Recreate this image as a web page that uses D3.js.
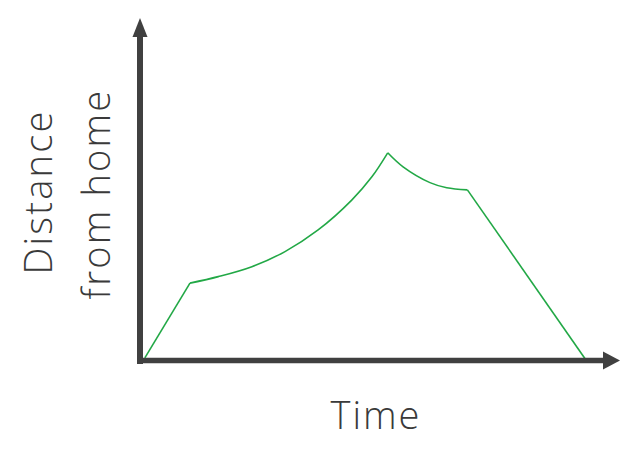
<!DOCTYPE html>
<html><head><meta charset="utf-8">
<script src="https://cdn.jsdelivr.net/npm/d3@7"></script>
<style>html,body{margin:0;padding:0;background:#fff;}svg{display:block;}</style>
</head><body>
<svg id="c" width="640" height="463"></svg>
<script>
// Data (time units 0-100, distance units 0-100)
const time     = [0.8, 10.2, 16.1, 23.1, 30.0, 36.9, 43.9, 48.1, 51.4, 54.6, 60.2, 63.7, 68.0, 92.7];
const distance = [0.9, 22.7, 24.6, 27.5, 31.9, 38.2, 46.9, 53.7, 60.7, 56.6, 52.0, 50.5, 49.9, 0.3];
const segment  = [0,   0,    1,    1,    1,    1,    1,    1,    1,    2,    2,    2,    2,    3];
const xLabel = "Time";
const yLabelLines = ["Distance", "from home"];

const svg = d3.select("#c");
const x = d3.scaleLinear().domain([0, 100]).range([141, 621]);
const y = d3.scaleLinear().domain([0, 100]).range([361, 18]);

const pts = time.map((t, i) => ({t, d: distance[i], s: segment[i]}));
// build segments sharing endpoints so the corners are sharp
const segs = [];
for (let s = 0; s <= 3; s++) {
  const arr = pts.filter(p => p.s === s);
  const prev = pts.filter(p => p.s === s - 1);
  if (prev.length) arr.unshift(prev[prev.length - 1]);
  segs.push(arr);
}
const line = d3.line().x(p => x(p.t)).y(p => y(p.d)).curve(d3.curveCatmullRom.alpha(0.5));
svg.selectAll("path.data").data(segs).join("path")
  .attr("class", "data")
  .attr("d", line)
  .attr("fill", "none")
  .attr("stroke", "#22a846")
  .attr("stroke-width", 1.6)
  .attr("stroke-linejoin", "round");

const axisColor = "#404040";
// axes
svg.append("line").attr("x1", x(0) - 1).attr("x2", x(0) - 1)
  .attr("y1", y(0) + 3).attr("y2", y(0) - 325)
  .attr("stroke", axisColor).attr("stroke-width", 6);
svg.append("line").attr("x1", x(0) - 4).attr("x2", x(0) + 463)
  .attr("y1", y(0) - 0.5).attr("y2", y(0) - 0.5)
  .attr("stroke", axisColor).attr("stroke-width", 5.5);
// arrowheads
const ox = x(0) - 1, oy = y(0) - 0.5;
svg.append("path")
  .attr("d", `M${ox - 7.5},${37} L${ox},${18} L${ox + 7.5},${37} Z`)
  .attr("fill", axisColor);
svg.append("path")
  .attr("d", `M${603},${oy - 9} L${620},${oy} L${603},${oy + 9} Z`)
  .attr("fill", axisColor);

// labels
const font = "'Open Sans', sans-serif";
svg.append("text").attr("x", 376).attr("y", 429)
  .attr("text-anchor", "middle")
  .style("font-family", font).style("font-weight", 300).style("font-size", "38px")
  .style("letter-spacing", "2px")
  .attr("fill", "#3a3a3a").text(xLabel);
const yl = svg.append("g");
yl.selectAll("text").data(yLabelLines).join("text")
  .attr("transform", (d, i) => `translate(${i === 0 ? 52 : 110},${i === 0 ? 192 : 194}) rotate(-90)`)
  .attr("text-anchor", "middle")
  .style("font-family", font).style("font-weight", 300).style("font-size", "38px")
  .style("letter-spacing", "2.2px")
  .attr("fill", "#3a3a3a").text(d => d);
</script>
</body></html>
